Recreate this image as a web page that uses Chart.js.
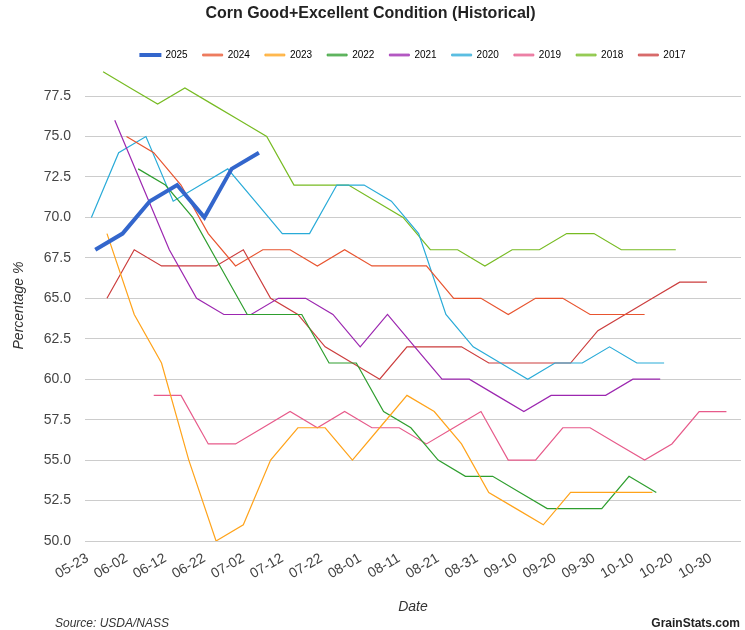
<!DOCTYPE html>
<html>
<head>
<meta charset="utf-8">
<script src="https://cdn.jsdelivr.net/npm/chart.js@4.4.1/dist/chart.umd.min.js"></script>
<style>
  html, body { margin: 0; padding: 0; background: #fff; }
  #wrap { position: relative; width: 745px; height: 630px; }
  #source { position: absolute; left: 55px; top: 616px; font: italic 12px 'Liberation Sans', Arial, sans-serif; color: #333; }
  #credit { position: absolute; right: 5px; top: 616px; font: bold 12px 'Liberation Sans', Arial, sans-serif; color: #222; }
</style>
</head>
<body>
<div id="wrap">
  <canvas id="c"></canvas>
  <div id="source">Source: USDA/NASS</div>
  <div id="credit">GrainStats.com</div>
</div>
<script>
// ---- data ----
const years = ['2025', '2024', '2023', '2022', '2021', '2020', '2019', '2018', '2017'];
const startDates = ['05-25', '06-02', '05-28', '06-05', '05-30', '05-24', '06-09', '05-27', '05-28'];
const values2025 = [68, 69, 71, 72, 70, 73, 74];
const values2024 = [75, 74, 72, 69, 67, 68, 68, 67, 68, 67, 67, 67, 65, 65, 64, 65, 65, 64, 64, 64];
const values2023 = [69, 64, 61, 55, 50, 51, 55, 57, 57, 55, 57, 59, 58, 56, 53, 52, 51, 53, 53, 53, 53];
const values2022 = [73, 72, 70, 67, 64, 64, 64, 61, 61, 58, 57, 55, 54, 54, 53, 52, 52, 52, 54, 53];
const values2021 = [76, 72, 68, 65, 64, 64, 65, 65, 64, 62, 64, 62, 60, 60, 59, 58, 59, 59, 59, 60, 60];
const values2020 = [70, 74, 75, 71, 72, 73, 71, 69, 69, 72, 72, 71, 69, 64, 62, 61, 60, 61, 61, 62, 61, 61];
const values2019 = [59, 59, 56, 56, 57, 58, 57, 58, 57, 57, 56, 57, 58, 55, 55, 57, 57, 56, 55, 56, 58, 58];
const values2018 = [79, 78, 77, 78, 77, 76, 75, 72, 72, 72, 71, 70, 68, 68, 67, 68, 68, 69, 69, 68, 68, 68];
const values2017 = [65, 68, 67, 67, 67, 68, 65, 64, 62, 61, 60, 62, 62, 62, 61, 61, 61, 61, 63, 64, 65, 66, 66];
const seriesValues = [values2025, values2024, values2023, values2022, values2021, values2020, values2019, values2018, values2017];
const xTickLabels = ['05-23', '06-02', '06-12', '06-22', '07-02', '07-12', '07-22', '08-01', '08-11', '08-21', '08-31', '09-10', '09-20', '09-30', '10-10', '10-20', '10-30'];
const yTickValues = [50, 52.5, 55, 57.5, 60, 62.5, 65, 67.5, 70, 72.5, 75, 77.5];

// ---- styles ----
const colors = ['#3366cc', '#e8542f', '#ffa31a', '#2e9e2e', '#9c27b0', '#29abd8', '#e75a8a', '#77bb22', '#cc3d3d'];
const widths = [4, 1.2, 1.2, 1.2, 1.2, 1.2, 1.2, 1.2, 1.2];

const cum = [0, 31, 59, 90, 120, 151, 181, 212, 243, 273, 304, 334];
function dayOf(md) { const [m, d] = md.split('-').map(Number); return cum[m - 1] + d; }

function alpha(hex, a) {
  const n = parseInt(hex.slice(1), 16);
  return `rgba(${(n >> 16) & 255},${(n >> 8) & 255},${n & 255},${a})`;
}

const datasets = years.map((y, i) => ({
  label: y,
  data: seriesValues[i].map((v, k) => ({ x: dayOf(startDates[i]) + 7 * k, y: v })),
  borderColor: colors[i],
  backgroundColor: alpha(colors[i], 0.65),
  borderWidth: widths[i],
  pointRadius: 0,
  pointHoverRadius: 0,
  tension: 0,
  fill: false
}));

Chart.defaults.font.family = "'Liberation Sans', Arial, Helvetica, sans-serif";

const legendCenter = {
  id: 'legendCenter',
  afterLayout(chart) {
    const l = chart.legend, ca = chart.chartArea;
    if (l && ca) { l.left = ca.left; l.right = ca.right; l.width = ca.right - ca.left; }
  }
};

new Chart(document.getElementById('c'), {
  type: 'line',
  data: { datasets },
  plugins: [legendCenter],
  options: {
    responsive: true,
    maintainAspectRatio: false,
    animation: false,
    layout: { padding: { left: 0, right: 4, top: 0, bottom: 0 } },
    plugins: {
      title: {
        display: true,
        text: 'Corn Good+Excellent Condition (Historical)',
        color: '#222',
        font: { size: 16, weight: 'bold' },
        padding: { top: 4.4, bottom: 11.4 }
      },
      legend: {
        display: true,
        position: 'top',
        labels: {
          color: '#333',
          font: { size: 10 },
          boxWidth: 20,
          boxHeight: 2,
          padding: 15,
          generateLabels(chart) {
            return chart.data.datasets.map((ds, i) => ({
              text: ds.label,
              fillStyle: i === 0 ? colors[i] : alpha(colors[i], 0.65),
              strokeStyle: i === 0 ? colors[i] : alpha(colors[i], 0.65),
              lineWidth: i === 0 ? 2 : 1,
              hidden: !chart.isDatasetVisible(i),
              datasetIndex: i
            }));
          }
        }
      },
      tooltip: { enabled: false }
    },
    scales: {
      x: {
        type: 'linear',
        min: 142.36,
        max: 310.74,
        grid: { display: false, drawTicks: false },
        border: { display: false },
        afterBuildTicks(scale) { scale.ticks = xTickLabels.map(d => ({ value: dayOf(d) })); },
        afterFit(scale) { scale.height = 89; },
        ticks: {
          autoSkip: false,
          minRotation: 30,
          maxRotation: 30,
          padding: 9,
          color: '#444',
          font: { size: 14 },
          callback: (v, i) => xTickLabels[i]
        },
        title: {
          display: true,
          text: 'Date',
          color: '#333',
          font: { size: 14, style: 'italic' },
          padding: { top: 4, bottom: 14.6 }
        }
      },
      y: {
        min: 50,
        max: 79.11,
        grid: { color: '#cccccc', lineWidth: 1, drawTicks: false },
        border: { display: false },
        afterBuildTicks(scale) { scale.ticks = yTickValues.map(v => ({ value: v })); },
        afterFit(scale) { scale.width = 85; },
        ticks: {
          padding: 14,
          color: '#444',
          font: { size: 14 },
          callback: v => Number(v).toFixed(1)
        },
        title: {
          display: true,
          text: 'Percentage %',
          color: '#333',
          font: { size: 14, style: 'italic' },
          padding: { top: 10.6, bottom: 0 }
        }
      }
    }
  }
});
</script>
</body>
</html>
